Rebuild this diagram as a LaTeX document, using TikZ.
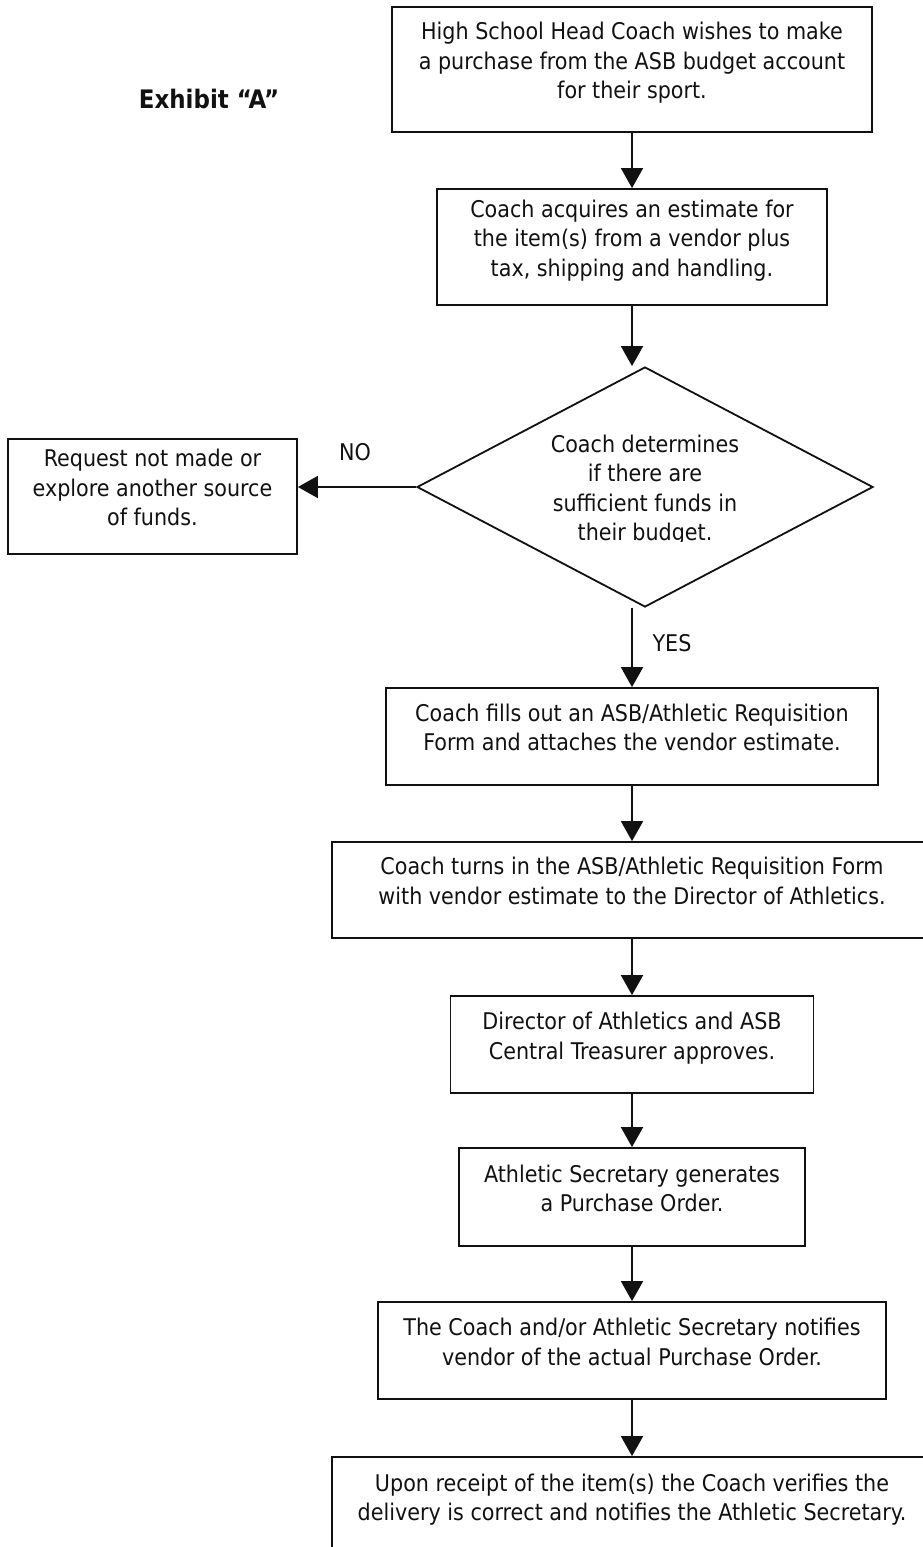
\documentclass[tikz,border=0pt]{standalone}
\usepackage{fontspec}
\setmainfont{DejaVu Sans Condensed}[BoldFont={DejaVu Sans Condensed Bold}]
\usepackage{xcolor}
\usepackage{tikz}
\usetikzlibrary{arrows.meta,positioning,shapes.geometric}
\definecolor{cInk}{HTML}{111111}
\newcommand{\flowfont}{\fontsize{23}{29.5}\selectfont}
\tikzset{
  stepbox/.style={draw=cInk,line width=1.8pt,align=center,inner sep=0pt,text depth=18pt,font=\flowfont,text=cInk},
  decbox/.style={draw=cInk,line width=1.8pt,diamond,inner sep=0pt,minimum width=456pt,minimum height=240pt},
  arr/.style={-{Triangle[length=20pt,width=22pt]},line width=1.8pt,color=cInk},
  lbl/.style={font=\flowfont,text=cInk,inner sep=0pt},
}
\begin{document}
\begin{tikzpicture}[x=1pt,y=-1pt]
  \useasboundingbox (0,0) rectangle (922,1547);
  \node[font=\fontsize{25.5}{30}\selectfont\bfseries,text=cInk] (exhibit) at (209,99) {Exhibit “A”};
  \node[stepbox,minimum width=480pt,minimum height=125pt] (start) at (632,69.5) {High School Head Coach wishes to make\\a purchase from the ASB budget account\\for their sport.};
  \node[stepbox,minimum width=390pt,minimum height=116pt] (estimate) at (632,247) {Coach acquires an estimate for\\the item(s) from a vendor plus\\tax, shipping and handling.};
  \node[decbox] (check) at (645,487) {};
  \begin{scope}
    \clip (417,360) rectangle (873,541);
    \node[lbl,align=center] (checktxt) at (645,490) {Coach determines\\if there are\\sufficient funds in\\their budget.};
  \end{scope}
  \node[stepbox,minimum width=289pt,minimum height=115pt] (nofund) at (152.5,496.5) {Request not made or\\explore another source\\of funds.};
  \node[stepbox,minimum width=492pt,minimum height=97pt] (reqform) at (632,736.5) {Coach fills out an ASB/Athletic Requisition\\Form and attaches the vendor estimate.};
  \node[stepbox,minimum width=600pt,minimum height=96pt] (submit) at (632,890) {Coach turns in the ASB/Athletic Requisition Form\\with vendor estimate to the Director of Athletics.};
  \node[stepbox,minimum width=363pt,minimum height=97pt] (approve) at (632,1044.5) {Director of Athletics and ASB\\Central Treasurer approves.};
  \node[stepbox,minimum width=346pt,minimum height=98pt] (porder) at (632,1197) {Athletic Secretary generates\\a Purchase Order.};
  \node[stepbox,minimum width=508pt,minimum height=97pt] (notify) at (632,1350.5) {The Coach and/or Athletic Secretary notifies\\vendor of the actual Purchase Order.};
  \node[stepbox,minimum width=600pt,minimum height=98pt] (verify) at (632,1506) {Upon receipt of the item(s) the Coach verifies the\\delivery is correct and notifies the Athletic Secretary.};
  \node[lbl] (nolbl) at (355,452) {NO};
  \node[lbl] (yeslbl) at (672,643) {YES};
  \draw[arr] (start) -- (estimate);
  \draw[arr] (estimate.south) -- (estimate.south |- check.north);
  \draw[arr] (check.west) -- (nofund.east |- check.west);
  \draw[arr] (reqform.north |- check.south) -- (reqform.north);
  \draw[arr] (reqform) -- (submit);
  \draw[arr] (submit) -- (approve);
  \draw[arr] (approve) -- (porder);
  \draw[arr] (porder) -- (notify);
  \draw[arr] (notify) -- (verify);
\end{tikzpicture}
\end{document}
